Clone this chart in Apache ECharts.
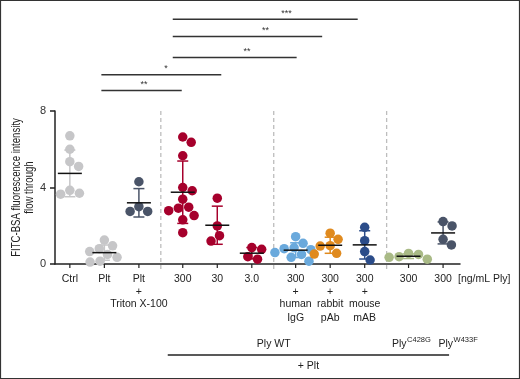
<!DOCTYPE html>
<html><head><meta charset="utf-8">
<script src="https://cdn.jsdelivr.net/npm/echarts@6/dist/echarts.min.js"></script>
<style>html,body{margin:0;padding:0;background:#fff}#c{width:520px;height:379px}</style>
</head><body><div id="c"></div>
<script>
// ---- data ----
const categories = ['Ctrl','Plt','Plt + Triton X-100','Ply WT 300','Ply WT 30','Ply WT 3.0',
  'Ply WT 300 + human IgG','Ply WT 300 + rabbit pAb','Ply WT 300 + mouse mAB','Ply C428G 300','Ply W433F 300'];
const groupOf = [0,0,0,1,1,1,2,2,2,3,3];
const tickLabels = ['Ctrl','Plt','Plt','300','30','3.0','300','300','300','300','300'];
const secondRow = ['','','+','','','','+','+','+','',''];
const thirdRow = ['','','Triton X-100','','','','human','rabbit','mouse','',''];
const fourthRow = ['','','','','','','IgG','pAb','mAB','',''];
const yTicks = [0,4,8];

const ctrl      = [6.7, 6.0, 5.35, 5.1, 3.85, 3.65, 3.55, 3.7];
const plt       = [1.25, 0.95, 0.8, 0.65, 0.5, 0.35, 0.15, 0.1];
const pltTriton = [4.3, 3.0, 2.75, 2.75];
const ply300    = [6.64, 6.36, 5.66, 4.0, 3.83, 3.39, 2.92, 2.97, 2.79, 2.53, 2.31, 1.64];
const ply30     = [3.44, 1.99, 1.48, 1.2];
const ply3      = [0.77, 0.86, 0.38, 0.25];
const plyIgG    = [1.43, 1.08, 0.85, 0.8, 0.75, 0.6, 0.5, 0.35, 0.15];
const plyRabbit = [1.61, 1.29, 0.96, 0.94, 0.56, 0.52];
const plyMouse  = [1.92, 1.22, 0.65, 0.21];
const plyC428G  = [0.5, 0.55, 0.35, 0.38, 0.25];
const plyW433F  = [2.22, 1.99, 1.29, 1.0];

const brackets = [ // [fromIndex, toIndex, label, levelValue]
  [1, 3, '**', 9.07], [1, 4, '*', 9.9], [3, 6, '**', 10.8], [3, 7, '**', 11.9], [3, 8, '***', 12.8]
];

// ---- styles / layout ----
const seriesValues = [ctrl, plt, pltTriton, ply300, ply30, ply3, plyIgG, plyRabbit, plyMouse, plyC428G, plyW433F];
const pointColors = ['#c6c6c8','#c6c6c8','#4a5468','#a6002c','#a6002c','#a6002c','#6aa9dc','#e08a1e','#2b4c89','#a9ba86','#4a5468'];
const bracketNudge = [[-3,-1,0.53],[-3,4,0.54],[-10,1,0.6],[-10,-8,0.62],[-10,-7,0.615]];
const GAP = 0.27;
const xPos = categories.map((c,i)=> i + groupOf[i]*GAP);
const XMIN = -0.43, XMAX = xPos[xPos.length-1] + 0.49;
const FONT = "'Liberation Sans', Arial, sans-serif";

function mean(a){return a.reduce((s,v)=>s+v,0)/a.length;}
function sd(a){const m=mean(a);return Math.sqrt(a.reduce((s,v)=>s+(v-m)*(v-m),0)/(a.length-1));}

const chart = echarts.init(document.getElementById('c'));
const base = {
  animation:false,
  grid:{left:55,right:60,top:111,bottom:115},
  xAxis:{type:'value',min:XMIN,max:XMAX,
    axisLine:{show:true,onZero:false,lineStyle:{color:'#222',width:1.5}},
    axisTick:{show:false},axisLabel:{show:false},splitLine:{show:false}},
  yAxis:{type:'value',min:0,max:8,interval:4,
    axisLine:{show:true,onZero:false,lineStyle:{color:'#222',width:1.5}},
    axisTick:{show:true,length:5,lineStyle:{color:'#222',width:1.5}},
    axisLabel:{margin:9,color:'#333',fontSize:11,fontFamily:FONT,
      formatter:v=>yTicks.indexOf(v)>=0?String(v):''},
    splitLine:{show:false}},
  series:[]
};
chart.setOption(base);
const p0 = chart.convertToPixel({gridIndex:0},[0,0]);
const p1 = chart.convertToPixel({gridIndex:0},[1,1]);
const pxX = p1[0]-p0[0], pxY = p0[1]-p1[1];
const toPx = (x,y)=>chart.convertToPixel({gridIndex:0},[x,y]);

function swarm(vals, D){
  const order = vals.map((v,i)=>i).sort((a,b)=>vals[b]-vals[a]);
  const placed=[], off=new Array(vals.length);
  order.forEach(i=>{
    const y = vals[i]*pxY, iv=[];
    placed.forEach(p=>{const dy=Math.abs(p.y-y); if(dy<D){const w=Math.sqrt(D*D-dy*dy); iv.push([p.x-w,p.x+w]);}});
    const c=[0]; iv.forEach(t=>c.push(t[0],t[1]));
    const ok=c.filter(x=>iv.every(t=>x<=t[0]+1e-6||x>=t[1]-1e-6));
    ok.sort((a,b)=>Math.abs(a)-Math.abs(b)||b-a);
    const x=ok[0]; placed.push({x,y}); off[i]=x;
  });
  return off;
}

const series = [];
seriesValues.forEach((vals,i)=>{
  const off = swarm(vals, 10);
  series.push({type:'scatter',name:categories[i],symbolSize:9.5,z:2,
    itemStyle:{color:pointColors[i],opacity:1},
    data: vals.map((v,k)=>[xPos[i]+off[k]/pxX, v])});
});
series.push({type:'custom',z:5,
  data: seriesValues.map((vals,i)=>[xPos[i], mean(vals), sd(vals), i]),
  renderItem:(params, api)=>{
    const x=api.value(0), m=api.value(1), s=api.value(2), idx=api.value(3);
    const c=pointColors[idx];
    const pm=api.coord([x,m]), pu=api.coord([x,m+s]), pl=api.coord([x,Math.max(0,m-s)]);
    const ls={stroke:c,lineWidth:1.5};
    const children=[
      {type:'line',shape:{x1:pm[0],y1:pu[1],x2:pm[0],y2:pl[1]},style:ls},
      {type:'line',shape:{x1:pm[0]-5.5,y1:pu[1],x2:pm[0]+5.5,y2:pu[1]},style:ls},
      {type:'line',shape:{x1:pm[0]-5.5,y1:pl[1],x2:pm[0]+5.5,y2:pl[1]},style:ls},
      {type:'line',shape:{x1:pm[0]-12,y1:pm[1],x2:pm[0]+12,y2:pm[1]},style:{stroke:'#111',lineWidth:1.5}}
    ];
    return {type:'group',children};
  }});

// annotations
const g = [];
const axisY = toPx(0,0)[1];
const topY = toPx(0,8)[1];
const txt = (x,y,t,opt)=>Object.assign({type:'text',x,y,style:{text:t,fill:'#222',fontSize:10.5,fontFamily:FONT,align:'center',verticalAlign:'middle'}},opt||{});
xPos.forEach((xp,i)=>{
  const px = toPx(xp,0)[0];
  g.push({type:'line',shape:{x1:px,y1:axisY,x2:px,y2:axisY+4},style:{stroke:'#222',lineWidth:1.2}});
  g.push(txt(px,axisY+15,tickLabels[i]));
  if(secondRow[i]) g.push(txt(px,axisY+28,secondRow[i]));
  if(thirdRow[i]) g.push(txt(px,axisY+40,thirdRow[i]));
  if(fourthRow[i]) g.push(txt(px,axisY+54,fourthRow[i]));
});
g.push({type:'text',x:toPx(XMAX,0)[0]-2,y:axisY+15,style:{text:'[ng/mL Ply]',fill:'#222',fontSize:10.5,fontFamily:FONT,align:'left',verticalAlign:'middle'}});
// y-axis title (condensed)
g.push({type:'text',x:23,y:(axisY+topY)/2,rotation:Math.PI/2,scaleX:0.8,
  style:{text:'FITC-BSA fluorescence intensity\nflow through',fill:'#222',fontSize:12,fontFamily:FONT,align:'center',verticalAlign:'middle',lineHeight:13}});
// separators
for(let i=1;i<xPos.length;i++){
  if(groupOf[i]!==groupOf[i-1]){
    const px = toPx((xPos[i]+xPos[i-1])/2,0)[0];
    g.push({type:'line',shape:{x1:px,y1:topY,x2:px,y2:axisY+8},style:{stroke:'#bdbdbd',lineWidth:1.3,lineDash:[4,3]}});
  }
}
// group labels
const pxOf = i=>toPx(xPos[i],0)[0];
g.push(txt((pxOf(3)+pxOf(8))/2, axisY+80, 'Ply WT'));
[[9,'C428G',-2],[10,'W433F',10]].forEach(([i,sup,dx])=>{
  const ax = pxOf(i)+dx;
  g.push({type:'text',x:ax,y:axisY+80,style:{text:'Ply',fill:'#222',fontSize:10.5,fontFamily:FONT,align:'right',verticalAlign:'middle'}});
  g.push({type:'text',x:ax+0.5,y:axisY+76,style:{text:sup,fill:'#222',fontSize:7.5,fontFamily:FONT,align:'left',verticalAlign:'middle'}});
});
const lx1 = pxOf(3)-15, lx2 = pxOf(10)+6;
g.push({type:'line',shape:{x1:lx1,y1:axisY+91,x2:lx2,y2:axisY+91},style:{stroke:'#222',lineWidth:1.5}});
g.push(txt((lx1+lx2)/2, axisY+102, '+ Plt'));
// significance brackets
brackets.forEach(([a,b,lab,lev],k)=>{
  const y = toPx(0,lev)[1];
  const x1 = pxOf(a)+bracketNudge[k][0], x2 = pxOf(b)+bracketNudge[k][1];
  g.push({type:'line',shape:{x1,y1:y,x2,y2:y},style:{stroke:'#333',lineWidth:1.5}});
  g.push({type:'text',x:x1+(x2-x1)*bracketNudge[k][2],y:y-6,style:{text:lab,fill:'#333',fontSize:9,fontFamily:FONT,align:'center',verticalAlign:'middle'}});
});
// frame
g.push({type:'rect',shape:{x:0.5,y:0.5,width:519,height:378},style:{fill:'none',stroke:'#333',lineWidth:1.2}});

chart.setOption({series, graphic:{elements:g}});
</script></body></html>
